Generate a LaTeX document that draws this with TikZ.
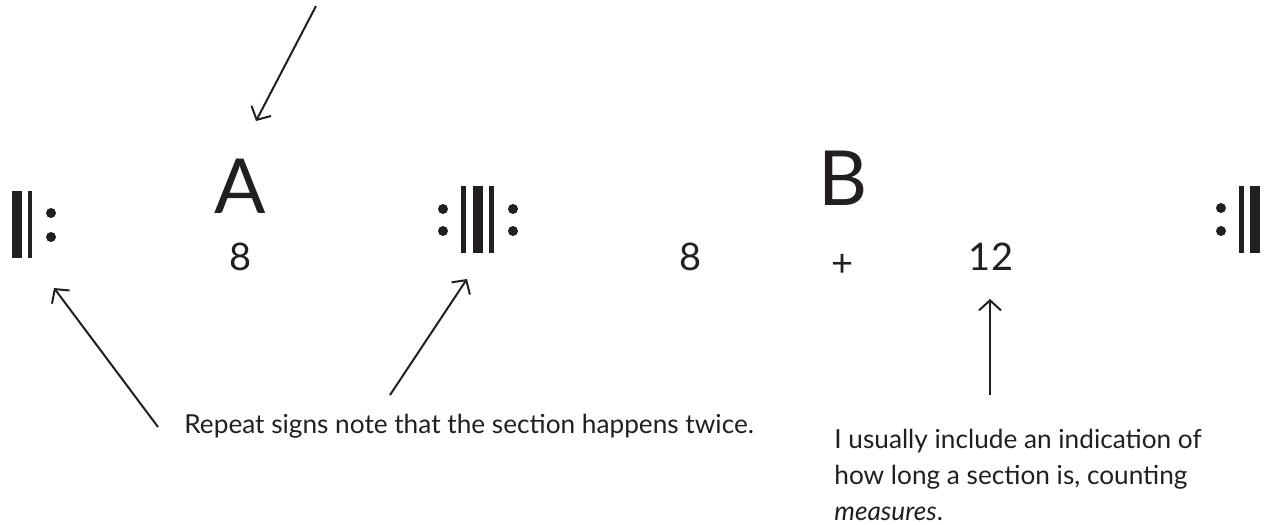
\documentclass[tikz,border=0pt]{standalone}
\usepackage{fontspec}
\setmainfont{Lato}
\usetikzlibrary{arrows.meta}
\definecolor{ink}{HTML}{231F20}

\begin{document}
\begin{tikzpicture}[x=0.5pt,y=-0.5pt,
  letter/.style={font=\fontsize{38}{38}\selectfont,anchor=base,inner sep=0pt,text=ink},
  count/.style={font=\fontsize{19}{20}\selectfont,anchor=base,inner sep=0pt,text=ink},
  note/.style={font=\fontsize{13.1}{18}\selectfont,anchor=base west,inner sep=0pt,text=ink,align=left},
  thickbar/.style={fill=ink,minimum width=5pt,minimum height=33.5pt,inner sep=0pt},
  thinbar/.style={fill=ink,minimum width=2.4pt,minimum height=33.5pt,inner sep=0pt},
  rdot/.style={circle,fill=ink,minimum size=5pt,inner sep=0pt},
  pointer/.style={-{Straight Barb[length=5pt,width=11pt]},line width=1pt,draw=ink}]
  \fill[white] (0,0) rectangle (1265,525);
  \useasboundingbox (0,0) rectangle (1265,525);
  % repeat signs
  \node[thickbar] (lThick) at (16.5,224.5) {};
  \node[thinbar] (lThin) at (30,224.5) {};
  \node[rdot] (lDotU) at (51,213) {};
  \node[rdot] (lDotD) at (51,237) {};
  \node[rdot] (mDotLU) at (443,209) {};
  \node[rdot] (mDotLD) at (443,231) {};
  \node[thinbar] (mThinL) at (463.5,219.5) {};
  \node[thickbar] (mThick) at (478,219.5) {};
  \node[thinbar] (mThinR) at (491.5,219.5) {};
  \node[rdot] (mDotRU) at (513,209) {};
  \node[rdot] (mDotRD) at (513,231) {};
  \node[rdot] (rDotU) at (1221,208) {};
  \node[rdot] (rDotD) at (1221,231) {};
  \node[thinbar] (rThin) at (1241.5,219.5) {};
  \node[thickbar] (rThick) at (1255,219.5) {};
  % sections and lengths
  \node[letter] (secA) at (240,213) {A};
  \node[count] (lenA) at (241,270) {8};
  \node[letter] (secB) at (843,205) {B};
  \node[count] (lenB1) at (691,270) {8};
  \node[count,anchor=center] (plus) at (843,265) {+};
  \node[count] (lenB2) at (991,270) {12};
  % notes
  \node[note] (repNote) at (184,433) {Repeat signs note that the section happens twice.};
  \node[note] (lenNote) at (834,520)
       {I usually include an indication of\\how long a section is, counting\\\textit{measures}.};
  % pointers
  \coordinate (topTail) at (316,6);
  \coordinate (topTip) at (256,121);
  \coordinate (lTail) at (158,427);
  \coordinate (lTip) at (54,288);
  \coordinate (mTail) at (390,395);
  \coordinate (mTip) at (467,279);
  \coordinate (uTail) at (990,395);
  \coordinate (uTip) at (990,299);
  \draw[pointer] (topTail) -- (topTip);
  \draw[pointer] (lTail) -- (lTip);
  \draw[pointer] (mTail) -- (mTip);
  \draw[pointer] (uTail) -- (uTip);
\end{tikzpicture}
\end{document}
